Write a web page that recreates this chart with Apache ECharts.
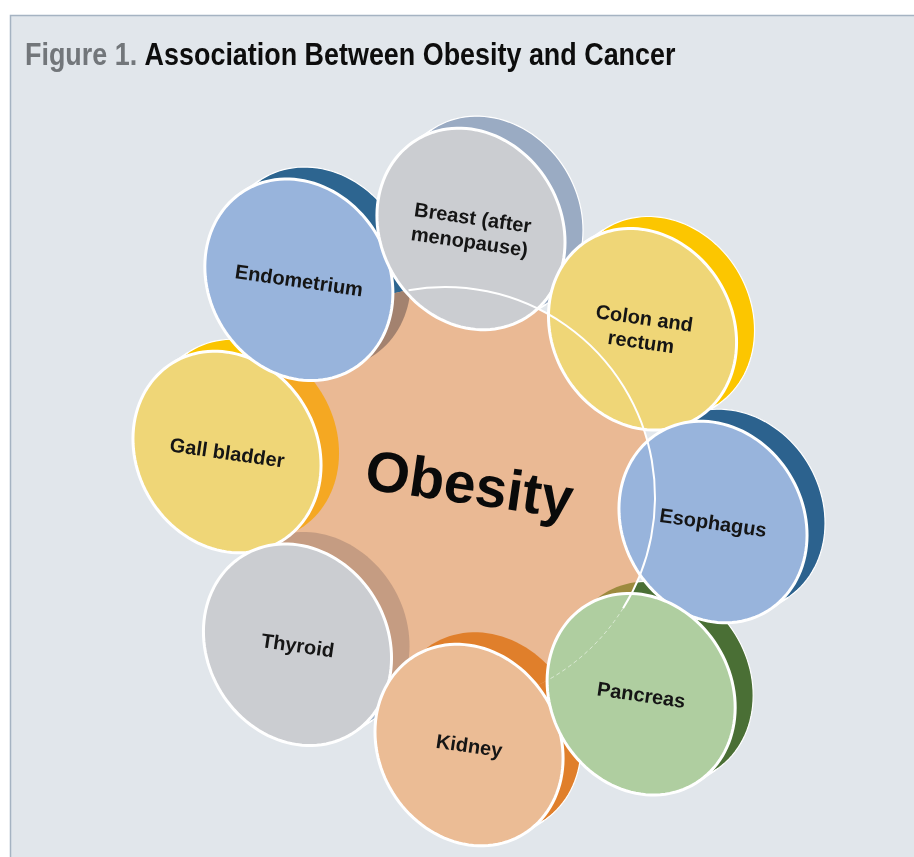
<!DOCTYPE html>
<html>
<head>
<meta charset="utf-8">
<script src="https://cdn.jsdelivr.net/npm/echarts@6/dist/echarts.min.js"></script>
<style>html,body{margin:0;padding:0;background:#fff}#main{width:914px;height:857px}</style>
</head>
<body>
<div id="main"></div>
<script>
// ---------- content ----------
const titleLead = 'Figure 1.';
const titleText = 'Association Between Obesity and Cancer';
const centerLabel = 'Obesity';
// cancer sites, clockwise from the top of the ring
const organs = ['Breast (after\nmenopause)', 'Colon and\nrectum', 'Esophagus', 'Pancreas', 'Kidney', 'Thyroid', 'Gall bladder', 'Endometrium'];
// every site sits on the same ring around the central "Obesity" disc
const ringValues = [1, 1, 1, 1, 1, 1, 1, 1];

// ---------- styles ----------
const faceColors = ['#cbcdd1', '#efd677', '#98b4dc', '#afcea0', '#ebbc95', '#cbcdd1', '#efd677', '#98b4dc'];
const sideColors = ['#9aabc3', '#fcc600', '#2c628e', '#4a6f35', '#e07f2b', '#a3b6cc', '#fbc500', '#2d6590'];
const sideOnCore = ['#9aabc3', '#fcc600', '#2c628e', '#9c8a3e', '#e07f2b', '#c59c82', '#f5a822', '#a3826f'];
const paintOrder = [6, 7, 0, 1, 2, 5, 4, 3];

const A = [[1.0, -0.004], [0.144, 1.062]];        // perspective tilt of the whole diagram
const TILT = -Math.atan2(A[1][0], A[0][0]);
const FACE_RATIO = 0.387;
const SIDE_SHIFT = [18, -12];
const CORE_SHIFT = [-25, 10];
const CORE_RATIO = 210 / 243;
const LABEL_FONT = '"Liberation Sans", Arial, sans-serif';

function apply(c, v) {
  return [c[0] + A[0][0] * v[0] + A[0][1] * v[1], c[1] + A[1][0] * v[0] + A[1][1] * v[1]];
}
function geom(api, idx) {
  const c = api.coord([0, 0]);
  const p = api.coord([api.value(0), idx]);
  const R = Math.hypot(p[0] - c[0], p[1] - c[1]);
  const C = apply(c, [p[0] - c[0], p[1] - c[1]]);
  return { c: c, R: R, C: C, rho: FACE_RATIO * R };
}
function ringPts(C, rho) {
  const pts = [];
  const n = 120;
  for (let k = 0; k < n; k++) {
    const t = 2 * Math.PI * k / n;
    pts.push(apply(C, [rho * Math.cos(t), rho * Math.sin(t)]));
  }
  return pts;
}
// tangent parameter for the cylinder seams
const det = A[0][0] * A[1][1] - A[0][1] * A[1][0];
const vInv = [(A[1][1] * SIDE_SHIFT[0] - A[0][1] * SIDE_SHIFT[1]) / det, (-A[1][0] * SIDE_SHIFT[0] + A[0][0] * SIDE_SHIFT[1]) / det];
const tSeam = Math.atan2(-vInv[0], vInv[1]);

function coreGeom(api) {
  const c = api.coord([0, 0]);
  const p = api.coord([1, 0]);
  const R = Math.hypot(p[0] - c[0], p[1] - c[1]);
  return { c: c, cx: c[0] + CORE_SHIFT[0], cy: c[1] + CORE_SHIFT[1], r: CORE_RATIO * R };
}

const chart = echarts.init(document.getElementById('main'));
const hidden = { axisLine: { show: false }, axisTick: { show: false }, axisLabel: { show: false }, splitLine: { show: false } };

const option = {
  animation: false,
  backgroundColor: '#ffffff',
  graphic: [{
    type: 'rect', z: -10, silent: true,
    shape: { x: 10.5, y: 15.5, width: 920, height: 860 },
    style: { fill: '#e1e6eb', stroke: '#a5b3c2', lineWidth: 1.5 }
  }, {
    type: 'text', z: 10, silent: true,
    x: 25, y: 56, scaleX: 0.868, scaleY: 1,
    style: {
      text: '{a|' + titleLead + ' }{b|' + titleText + '}',
      verticalAlign: 'middle', align: 'left',
      rich: {
        a: { fontFamily: LABEL_FONT, fontSize: 31, fill: '#72767a', fontWeight: 'bold' },
        b: { fontFamily: LABEL_FONT, fontSize: 31, fill: '#0d0d0d', fontWeight: 'bold' }
      }
    }
  }],
  polar: { center: [470, 487], radius: 243 },
  angleAxis: Object.assign({ type: 'category', data: organs, startAngle: 112.5, clockwise: true, boundaryGap: true }, hidden),
  radiusAxis: Object.assign({ type: 'value', min: 0, max: 1 }, hidden),
  series: [
    { // cylinder sides
      type: 'custom', coordinateSystem: 'polar', z: 1, silent: true,
      data: organs.map((n, i) => [ringValues[i], i]),
      renderItem: function (params, api) {
        const idx = api.value(1);
        const g = geom(api, idx);
        const Cb = [g.C[0] + SIDE_SHIFT[0], g.C[1] + SIDE_SHIFT[1]];
        const children = [{
          type: 'polygon', shape: { points: ringPts(Cb, g.rho) },
          style: { fill: sideColors[idx], stroke: '#ffffff', lineWidth: 1.2 }
        }];
        [tSeam, tSeam + Math.PI].forEach(function (t) {
          const a = apply(g.C, [g.rho * Math.cos(t), g.rho * Math.sin(t)]);
          children.push({ type: 'line', shape: { x1: a[0], y1: a[1], x2: a[0] + SIDE_SHIFT[0], y2: a[1] + SIDE_SHIFT[1] }, style: { stroke: '#ffffff', lineWidth: 1.5 } });
        });
        return { type: 'group', children: children };
      }
    },
    { // central disc
      type: 'custom', coordinateSystem: 'polar', z: 2, silent: true,
      data: [[0, 0]],
      renderItem: function (params, api) {
        const k = coreGeom(api);
        return { type: 'circle', shape: { cx: k.cx, cy: k.cy, r: k.r }, style: { fill: '#eab994' } };
      }
    },
    { // sides where they fall over the central disc
      type: 'custom', coordinateSystem: 'polar', z: 3, silent: true,
      data: organs.map((n, i) => [ringValues[i], i]),
      renderItem: function (params, api) {
        const idx = api.value(1);
        const g = geom(api, idx);
        const k = coreGeom(api);
        const Cb = [g.C[0] + SIDE_SHIFT[0], g.C[1] + SIDE_SHIFT[1]];
        return {
          type: 'polygon', shape: { points: ringPts(Cb, g.rho) },
          style: { fill: sideOnCore[idx] },
          clipPath: { type: 'circle', shape: { cx: k.cx, cy: k.cy, r: k.r } }
        };
      }
    },
    { // faces and labels
      type: 'custom', coordinateSystem: 'polar', z: 4, silent: true,
      data: paintOrder.map(i => [ringValues[i], i]),
      renderItem: function (params, api) {
        const idx = api.value(1);
        const g = geom(api, idx);
        return {
          type: 'group', children: [
            { type: 'polygon', shape: { points: ringPts(g.C, g.rho) }, style: { fill: faceColors[idx], stroke: '#ffffff', lineWidth: 3 } },
            { type: 'text', x: g.C[0], y: g.C[1] + 2, rotation: TILT,
              style: { text: organs[idx], fill: '#151515', font: 'bold 20px ' + LABEL_FONT, align: 'center', verticalAlign: 'middle', lineHeight: 24 } }
          ]
        };
      }
    },
    { // outline of the central disc and its label
      type: 'custom', coordinateSystem: 'polar', z: 5, silent: true,
      data: [[0, 0]],
      renderItem: function (params, api) {
        const k = coreGeom(api);
        const d = Math.PI / 180;
        return {
          type: 'group', children: [
            { type: 'arc', shape: { cx: k.cx, cy: k.cy, r: k.r, startAngle: -100 * d, endAngle: 32 * d, clockwise: true }, style: { fill: null, stroke: '#ffffff', lineWidth: 2 } },
            { type: 'arc', shape: { cx: k.cx, cy: k.cy, r: k.r, startAngle: 32 * d, endAngle: 60 * d, clockwise: true }, style: { fill: null, stroke: 'rgba(255,255,255,0.55)', lineWidth: 1, lineDash: [4, 3] } },
            { type: 'text', x: k.c[0] - 1, y: k.c[1] + 1, rotation: TILT,
              style: { text: centerLabel, fill: '#0a0a0a', font: 'bold 57px ' + LABEL_FONT, align: 'center', verticalAlign: 'middle' } }
          ]
        };
      }
    }
  ]
};
chart.setOption(option);
</script>
</body>
</html>
